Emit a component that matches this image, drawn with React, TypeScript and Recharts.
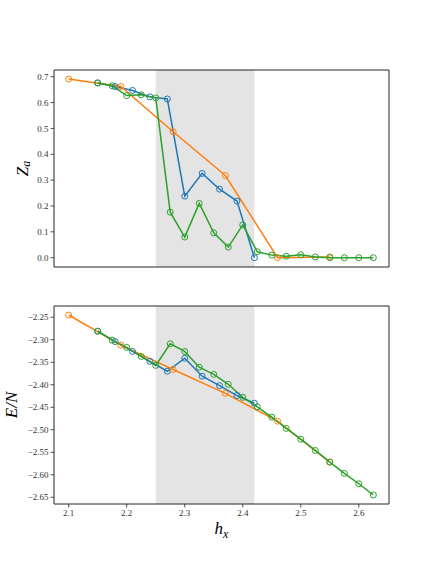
import React from "react";
import { LineChart, Line, XAxis, YAxis, ReferenceArea } from "recharts";

const hxBlue = [2.15, 2.18, 2.21, 2.24, 2.27, 2.30, 2.33, 2.36, 2.39, 2.42];
const zaBlue = [0.676, 0.662, 0.647, 0.622, 0.614, 0.238, 0.326, 0.265, 0.219, 0.0];
const enBlue = [-2.281, -2.304, -2.326, -2.348, -2.370, -2.341, -2.381, -2.402, -2.424, -2.441];

const hxOrange = [2.10, 2.19, 2.28, 2.37, 2.46, 2.55];
const zaOrange = [0.691, 0.662, 0.487, 0.318, 0.0, 0.003];
const enOrange = [-2.245, -2.312, -2.366, -2.419, -2.481, -2.572];

const hxGreen = [2.15, 2.175, 2.2, 2.225, 2.25, 2.275, 2.3, 2.325, 2.35, 2.375, 2.4, 2.425, 2.45, 2.475, 2.5, 2.525, 2.55, 2.575, 2.6, 2.625];
const zaGreen = [0.676, 0.665, 0.627, 0.630, 0.618, 0.176, 0.080, 0.210, 0.096, 0.041, 0.127, 0.023, 0.010, 0.006, 0.011, 0.003, 0.0, 0.0, 0.0, 0.0];
const enGreen = [-2.281, -2.301, -2.317, -2.337, -2.357, -2.309, -2.326, -2.361, -2.377, -2.399, -2.428, -2.449, -2.472, -2.497, -2.521, -2.546, -2.572, -2.597, -2.620, -2.645];

const xTicks = [2.1, 2.2, 2.3, 2.4, 2.5, 2.6];
const zaTicks = [0.0, 0.1, 0.2, 0.3, 0.4, 0.5, 0.6, 0.7];
const enTicks = [-2.25, -2.3, -2.35, -2.4, -2.45, -2.5, -2.55, -2.6, -2.65];
const shadeRange = [2.25, 2.42];

const xDomain = [2.0747, 2.652];
const zaDomain = [-0.036, 0.726];
const enDomain = [-2.665, -2.225];

const BLUE = "#1f77b4";
const ORANGE = "#ff7f0e";
const GREEN = "#2ca02c";
const FONT = "'Liberation Serif', 'DejaVu Serif', serif";
const AXIS = "#262626";

const zip = (xs: number[], ys: number[]) => xs.map((x, i) => ({ x, y: ys[i] }));

const tickStyle = { fontSize: 9, fontFamily: FONT, fill: "#333" };

const fmtMinus = (v: number, d: number) => {
  const s = Math.abs(v).toFixed(d);
  return v < 0 ? "\u2212" + s : s;
};

function Panel(props: {
  top: number;
  height: number;
  margin: any;
  domain: number[];
  ticks: number[];
  digits: number;
  showXLabels: boolean;
  blue: number[];
  orange: number[];
  green: number[];
  yLabel: React.ReactNode;
  xLabel?: React.ReactNode;
}) {
  const dot = (c: string) => ({ r: 3, fill: "none", stroke: c, strokeWidth: 1 });
  return (
    <div style={{ position: "absolute", left: 0, top: props.top }}>
      <LineChart width={432} height={props.height} margin={props.margin}>
        <ReferenceArea
          x1={shadeRange[0]}
          x2={shadeRange[1]}
          y1={props.domain[0]}
          y2={props.domain[1]}
          fill="#000"
          fillOpacity={0.105}
          stroke="none"
          ifOverflow="hidden"
        />
        <XAxis
          dataKey="x"
          type="number"
          domain={xDomain}
          ticks={xTicks}
          allowDataOverflow
          tickSize={3.5}
          stroke={AXIS}
          axisLine={{ stroke: AXIS, strokeWidth: 1 }}
          tickLine={{ stroke: AXIS, strokeWidth: 0.8 }}
          tick={props.showXLabels ? tickStyle : false}
          tickFormatter={(v: number) => v.toFixed(1)}
          height={30}
          interval={0}
          label={props.xLabel as any}
        />
        <XAxis xAxisId="top" orientation="top" type="number" domain={xDomain} dataKey="x" tick={false} tickLine={false} axisLine={{ stroke: AXIS, strokeWidth: 1 }} height={1} allowDataOverflow />
        <YAxis
          dataKey="y"
          type="number"
          domain={props.domain}
          ticks={props.ticks}
          allowDataOverflow
          tickSize={3.5}
          axisLine={{ stroke: AXIS, strokeWidth: 1 }}
          tickLine={{ stroke: AXIS, strokeWidth: 0.8 }}
          tick={tickStyle}
          tickFormatter={(v: number) => fmtMinus(v, props.digits)}
          width={54}
          interval={0}
          label={props.yLabel as any}
        />
        <YAxis yAxisId="right" orientation="right" type="number" domain={props.domain} tick={false} tickLine={false} axisLine={{ stroke: AXIS, strokeWidth: 1 }} width={1} allowDataOverflow />
        <Line data={zip(hxBlue, props.blue)} dataKey="y" stroke={BLUE} strokeWidth={1.5} dot={dot(BLUE)} isAnimationActive={false} />
        <Line data={zip(hxOrange, props.orange)} dataKey="y" stroke={ORANGE} strokeWidth={1.5} dot={dot(ORANGE)} isAnimationActive={false} />
        <Line data={zip(hxGreen, props.green)} dataKey="y" stroke={GREEN} strokeWidth={1.5} dot={dot(GREEN)} isAnimationActive={false} />
      </LineChart>
    </div>
  );
}

function ZaLabel(p: any) {
  const vb = p.viewBox || { x: 54, y: 69, width: 0, height: 198 };
  const cx = 22;
  const cy = vb.y + vb.height / 2;
  return (
    <text x={cx} y={cy} transform={`rotate(-90 ${cx} ${cy})`} textAnchor="middle" dominantBaseline="central" fontFamily={FONT} fontSize={17} fontStyle="italic" fill="#000">
      Z<tspan fontSize={12} dy={4}>a</tspan>
    </text>
  );
}

function EnLabel(p: any) {
  const vb = p.viewBox || { x: 54, y: 16, width: 0, height: 198 };
  const cx = 11;
  const cy = vb.y + vb.height / 2;
  return (
    <text x={cx} y={cy} transform={`rotate(-90 ${cx} ${cy})`} textAnchor="middle" dominantBaseline="central" fontFamily={FONT} fontSize={17} fontStyle="italic" fill="#000">
      E/N
    </text>
  );
}

function HxLabel(p: any) {
  const vb = p.viewBox || { x: 54, y: 214, width: 335, height: 0 };
  const cx = vb.x + vb.width / 2;
  const cy = vb.y + 30;
  return (
    <text x={cx} y={cy} textAnchor="middle" fontFamily={FONT} fontSize={17} fontStyle="italic" fill="#000">
      h<tspan fontSize={12} dy={4}>x</tspan>
    </text>
  );
}

export default function App() {
  return (
    <div style={{ position: "absolute", left: 0, top: 0, width: 432, height: 576, background: "#fff" }}>
      <Panel
        top={0}
        height={290}
        margin={{ top: 69, right: 42, bottom: -7, left: 0 }}
        domain={zaDomain}
        ticks={zaTicks}
        digits={1}
        showXLabels={false}
        blue={zaBlue}
        orange={zaOrange}
        green={zaGreen}
        yLabel={<ZaLabel />}
      />
      <Panel
        top={290}
        height={286}
        margin={{ top: 15, right: 42, bottom: 42, left: 0 }}
        domain={enDomain}
        ticks={enTicks}
        digits={2}
        showXLabels={true}
        blue={enBlue}
        orange={enOrange}
        green={enGreen}
        yLabel={<EnLabel />}
        xLabel={<HxLabel />}
      />
    </div>
  );
}
